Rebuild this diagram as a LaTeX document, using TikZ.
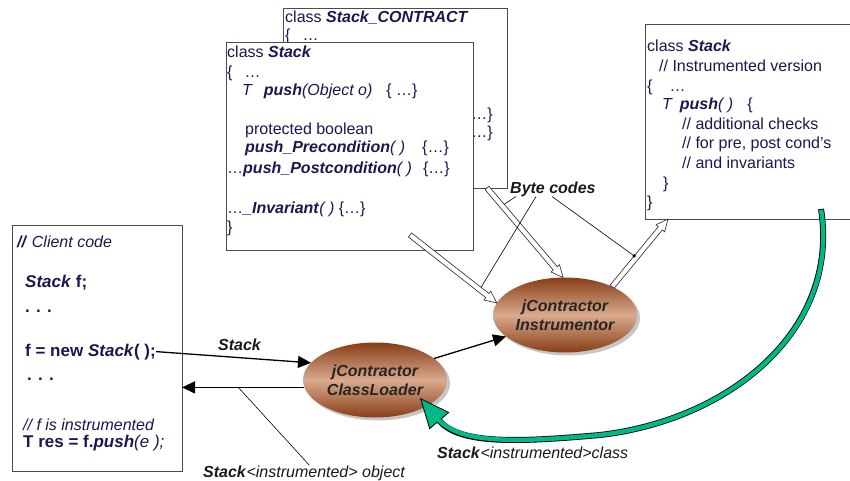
\documentclass[tikz,border=0pt]{standalone}
\usepackage{fontspec}
\setmainfont{Liberation Sans}
\usetikzlibrary{shapes.geometric,shadows,calc,arrows.meta}
\definecolor{codeblue}{RGB}{30,22,80}
\definecolor{browndark}{RGB}{135,62,22}
\definecolor{brownlight}{RGB}{218,170,142}
\definecolor{flowgreen}{RGB}{0,184,134}
\newcommand{\bital}[1]{\textbf{\textit{#1}}}
%% hollow arrow: start, end, name of head point
\newcommand{\bytearrow}[3]{%
  \coordinate (#3) at ($(#2)!12pt!(#1)$);
  \draw[hollowdecorate] ($(#1)!2.6pt!90:(#2)$) -- ($(#3)!2.6pt!90:(#2)$) -- ($(#3)!5.6pt!90:(#2)$)
    -- (#2) -- ($(#3)!5.6pt!-90:(#2)$) -- ($(#3)!2.6pt!-90:(#2)$) -- ($(#1)!2.6pt!-90:(#2)$) -- cycle;}
\begin{document}
\begin{tikzpicture}
        [x=1pt,y=-1pt,
        boxdecorate/.style={draw=black!70,fill=white,line width=0.9pt,inner sep=0pt,outer sep=0pt,anchor=north west},%
        codedecorate/.style={inner sep=0pt,anchor=base west,text=codeblue,font=\fontsize{16}{19}\selectfont},%
        clientdecorate/.style={codedecorate,font=\fontsize{17}{20}\selectfont\bfseries},%
        labeldecorate/.style={inner sep=0pt,anchor=base west,text=black!90,font=\fontsize{16}{19}\selectfont},%
        ellipsedecorate/.style={ellipse,minimum width=144pt,minimum height=75pt,inner sep=0pt,outer sep=0pt,
          top color=browndark,bottom color=browndark,middle color=brownlight,align=center,text=black!85,
          font=\fontsize{16}{19}\selectfont\bfseries\itshape,
          drop shadow={shadow xshift=3pt,shadow yshift=-3pt,opacity=0.45}},%
        arrowdecorate/.style={-{Triangle[length=13pt,width=12pt]},line width=1.3pt},%
        hollowdecorate/.style={draw=black!85,fill=white,line width=0.6pt},%
        linedecorate/.style={line width=0.6pt}]
        \useasboundingbox (0,0) rectangle (850,481);
        %% class boxes
        \node[boxdecorate,minimum width=224pt,minimum height=180pt] (contract) at (283,8) {};
        \node[codedecorate] (sc1) at (285,23) {class \bital{Stack\_CONTRACT}};
        \node[codedecorate] (sc2) at (285,41) {\{\hspace{12pt}\dots};
        \node[codedecorate,anchor=base east] (sc3) at (493,120) {\{\dots\}};
        \node[codedecorate,anchor=base east] (sc4) at (493,138) {\{\dots\}};

        \node[boxdecorate,minimum width=247pt,minimum height=208pt] (stack) at (226,42) {};
        \foreach \nodename/\x/\y/\txt in {st1/227/58/{class \bital{Stack}},
          st2/227/78/{\{\hspace{12pt}\dots},
          st3/242/96/{\textit{T}\hspace{11pt}\bital{push}\textit{(Object o)}\hspace{14pt}\{ \dots\}},
          st4/245/135/{protected boolean},
          st5/245/153/{\bital{push\_Precondition}\textit{( )}\hspace{17pt}\{\dots\}},
          st6/227/173/{\dots\bital{push\_Postcondition}\textit{( )}\hspace{11pt}\{\dots\}},
          st7/227/213/{\dots\bital{\_Invariant}\textit{( )} \{\dots\}},
          st8/227/232/{\}}}
        {
          \node[codedecorate] (\nodename) at (\x,\y) {\txt};
        }

        \node[boxdecorate,minimum width=212pt,minimum height=195pt] (instrbox) at (645,24) {};
        \foreach \nodename/\x/\y/\txt in {sv1/647/52/{class \bital{Stack}},
          sv2/659/72/{// Instrumented version},
          sv3/647/92/{\{\hspace{17pt}\dots},
          sv4/662/110/{\textit{T}\hspace{7pt}\bital{push}\textit{( )}\hspace{14pt}\{},
          sv5/682/130/{// additional checks},
          sv6/682/149/{// for pre, post cond's},
          sv7/682/168/{// and invariants},
          sv8/663/188/{\}}, sv9/647/207/{\}}}
        {
          \node[codedecorate] (\nodename) at (\x,\y) {\txt};
        }

        %% client code
        \node[boxdecorate,minimum width=170pt,minimum height=246pt] (client) at (12,225) {};
        \node[codedecorate] (cl1) at (17,247) {\bital{//} \textit{Client code}};
        \foreach \nodename/\x/\y/\txt in {cl2/25/287/{\bital{Stack}~f;},
          cl3/25/312/{. . .},
          cl4/25/356/{f = new \bital{Stack}( );},
          cl5/27/380/{. . .},
          cl7/23/447/{T res = f.\bital{push}\textmd{\textit{(e );}}}}
        {
          \node[clientdecorate] (\nodename) at (\x,\y) {\txt};
        }
        \node[codedecorate] (cl6) at (23,430) {\textit{// f is instrumented}};

        %% tools
        \node[ellipsedecorate] (instr) at (565,315) {jContractor\\Instrumentor};
        \node[ellipsedecorate] (loader) at (375,380) {jContractor\\ClassLoader};

        %% byte code flow
        \coordinate (h1s) at (410,235);
        \coordinate (h2s) at (487,188);
        \coordinate (h3e) at ([xshift=23pt]instrbox.south west);
        \bytearrow{h1s}{instr.170}{h1h}
        \bytearrow{h2s}{instr.93}{h2h}
        \bytearrow{instr.31}{h3e}{h3h}

        \node[labeldecorate] (bytes) at (510,193) {\bital{Byte codes}};
        \coordinate (b1c) at ($(h2s)!0.2!(instr.93)$);
        \coordinate (b2c) at ($(h1s)!0.8!(instr.170)$);
        \coordinate (b3c) at ($(instr.31)!0.43!(h3e)$);
        \coordinate (b1) at ($(b1c)!2.6pt!90:(instr.93)$);
        \coordinate (b2) at ($(b2c)!2.6pt!90:(instr.170)$);
        \coordinate (b3) at ($(b3c)!2.6pt!90:(h3e)$);
        \draw[linedecorate] ([xshift=6pt]bytes.south west) -- (b1);
        \draw[linedecorate] ([xshift=26pt]bytes.south west) -- (b2);
        \draw[linedecorate] ([xshift=42pt]bytes.south west) -- (b3);
        \fill (b3) circle (1.8pt);

        %% loading
        \draw[arrowdecorate] (loader.20) -- (instr.200);
        \draw[arrowdecorate] (cl4.east) -- (loader.165);
        \draw[arrowdecorate] (loader.186) -- (loader.186 -| client.east);
        \node[labeldecorate] (lblstack) at (218,350) {\bital{Stack}};
        \node[labeldecorate] (lblobj) at (203,477) {\bital{Stack}\textit{<instrumented> object}};
        \coordinate (objtip) at ($(loader.186)!0.54!(loader.186 -| client.east)$);
        \draw[linedecorate] (objtip) -- ([xshift=5pt]lblobj.north);

        %% instrumented class back to the loader
        \coordinate (gstart) at (821,209);
        \coordinate (gtip) at ([shift={(45,18)}]loader.center);
        \draw[line width=6pt,black,-{Triangle[length=30pt,width=26pt,fill=flowgreen,line width=0.8pt]}]
          (gstart) .. controls (840,330) and (730,420) .. (600,435) .. controls (520,442) and (460,445) .. (gtip);
        \draw[line width=4.4pt,flowgreen,shorten >=27pt,shorten <=0.8pt]
          (gstart) .. controls (840,330) and (730,420) .. (600,435) .. controls (520,442) and (460,445) .. (gtip);
        \node[labeldecorate] (lblclass) at (437,458) {\bital{Stack}\textit{<instrumented>class}};
      \end{tikzpicture}
\end{document}
